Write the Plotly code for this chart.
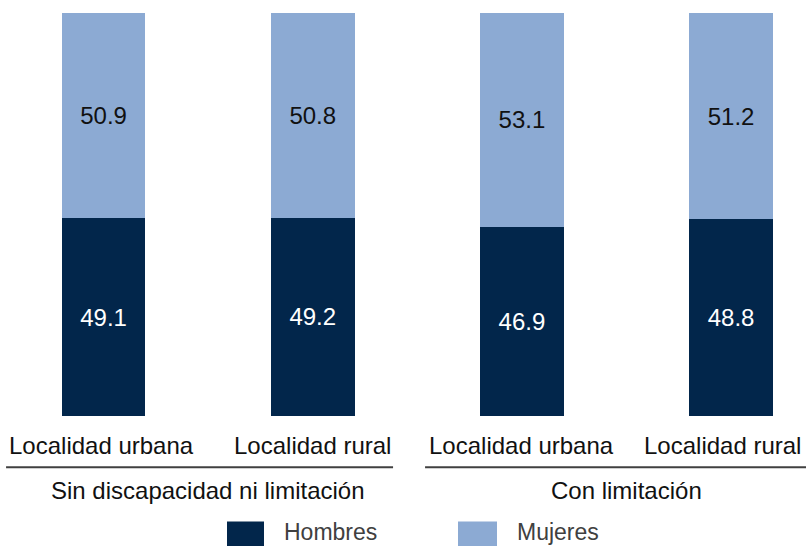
import plotly.graph_objects as go

# Data
categories = ["Localidad urbana", "Localidad rural", "Localidad urbana", "Localidad rural"]
groups = ["Sin discapacidad ni limitación", "Con limitación"]
hombres = [49.1, 49.2, 46.9, 48.8]
mujeres = [50.9, 50.8, 53.1, 51.2]
series_names = ["Hombres", "Mujeres"]

DARK = "#02264B"
LIGHT = "#8CAAD3"
FONT = "Liberation Sans, Arial, sans-serif"

xpos = list(range(len(categories)))

fig = go.Figure()
fig.add_trace(go.Bar(
    x=xpos, y=hombres, name=series_names[0], marker=dict(color=DARK, line=dict(width=0)),
    width=0.4, text=[f"{v:.1f}" for v in hombres], textposition="inside",
    insidetextanchor="middle", textfont=dict(color="white", size=24, family=FONT),
))
fig.add_trace(go.Bar(
    x=xpos, y=mujeres, name=series_names[1], marker=dict(color=LIGHT, line=dict(width=0)),
    width=0.4, text=[f"{v:.1f}" for v in mujeres], textposition="inside",
    insidetextanchor="middle", textfont=dict(color="#111111", size=24, family=FONT),
))

annotations = []
shapes = []

# Category labels under each bar; the last one is nudged left to stay inside the page
label_shift = [-2, 0, 0, -9]
for x, c, dx in zip(xpos, categories, label_shift):
    annotations.append(dict(x=x, y=-0.073, xref="x", yref="paper", text=c, showarrow=False,
                            xanchor="center", yanchor="middle", xshift=dx,
                            font=dict(size=24, color="#111111", family=FONT)))

# Group separator lines and group labels
group_spans = [(-0.466, 1.384), (1.537, 3.36)]
for (x0, x1), g, (a, b) in zip(group_spans, groups, [(0, 1), (2, 3)]):
    shapes.append(dict(type="line", xref="x", yref="paper", x0=x0, x1=x1, y0=-0.127, y1=-0.127,
                       line=dict(color="#404040", width=2)))
    annotations.append(dict(x=(a + b) / 2, y=-0.185, xref="x", yref="paper", text=g, showarrow=False,
                            xanchor="center", yanchor="middle",
                            font=dict(size=24, color="#111111", family=FONT)))

# Legend drawn manually with large swatches
legend_items = [(series_names[0], DARK, 227, 264, 282), (series_names[1], LIGHT, 458, 497, 515)]
for name, col, sx0, sx1, tx in legend_items:
    shapes.append(dict(type="rect", xref="paper", yref="paper",
                       x0=sx0 / 806, x1=sx1 / 806, y0=-0.262, y1=-0.34,
                       fillcolor=col, line=dict(width=0)))
    annotations.append(dict(x=tx / 806, y=-0.287, xref="paper", yref="paper", text=name,
                            showarrow=False, xanchor="left", yanchor="middle",
                            font=dict(size=23, color="#404040", family=FONT)))

fig.update_layout(
    barmode="stack",
    width=806, height=546,
    margin=dict(l=0, r=0, t=13, b=130),
    paper_bgcolor="white", plot_bgcolor="white",
    showlegend=False,
    xaxis=dict(range=[-0.495, 3.358], visible=False, fixedrange=True),
    yaxis=dict(range=[0, 100], visible=False, fixedrange=True),
    annotations=annotations,
    shapes=shapes,
    font=dict(family=FONT),
)

fig.write_html("out.html")
